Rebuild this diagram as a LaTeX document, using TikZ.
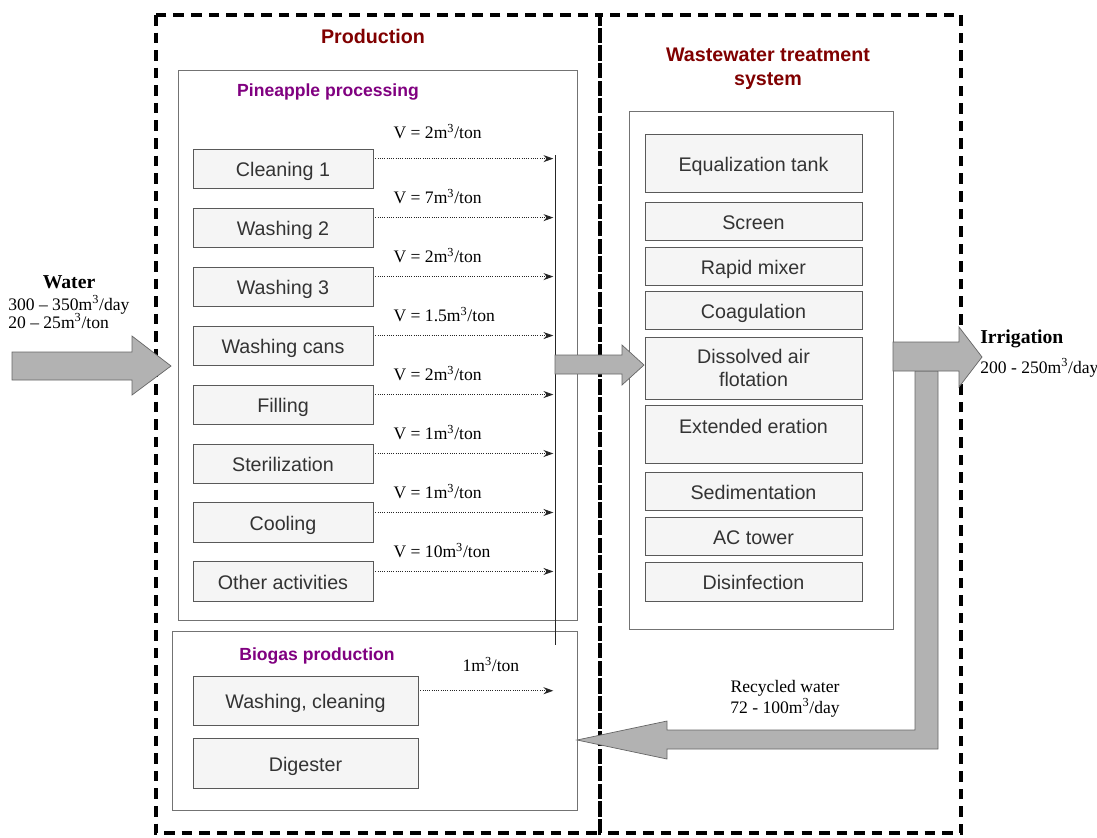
\documentclass[tikz,border=0pt]{standalone}
\usepackage{fontspec}
\setmainfont{Liberation Serif}
\setsansfont{Liberation Sans}
\usetikzlibrary{arrows.meta, positioning, calc}

\definecolor{prodred}{RGB}{128,0,0}
\definecolor{procpurple}{RGB}{128,0,128}

\begin{document}
\begin{tikzpicture}[x=0.025cm, y=-0.025cm, >={Stealth[length=7pt, width=5pt]},
        pbox/.style={rectangle, draw=black!65, fill=black!4, text=black!80, minimum width=4.5cm, minimum height=0.98cm, inner sep=1pt, align=center, text height=12pt, text depth=0pt, font=\sffamily\fontsize{14}{16.5}\selectfont},
        wbox/.style={pbox, minimum width=5.425cm},
        panel/.style={draw=black!55, line width=0.6pt},
        zone/.style={draw=black, line width=2.2pt, dash pattern=on 7.5pt off 5pt},
        flow/.style={->, densely dotted, black!85, line width=0.6pt},
        fat/.style={draw=black!60, fill=black!30, line width=0.5pt},
        title/.style={font=\sffamily\bfseries\fontsize{14}{17}\selectfont, text=prodred, align=center},
        subtitle/.style={font=\sffamily\bfseries\fontsize{12.5}{15}\selectfont, text=procpurple},
        qty/.style={font=\fontsize{12.5}{14.5}\selectfont, inner sep=0pt},
        big/.style={font=\bfseries\fontsize{14}{16}\selectfont, inner sep=0pt}]

        \useasboundingbox (0,0) rectangle (1097,837);

        % the two zones
        \draw[zone] (156,15) rectangle (600,833);
        \draw[zone] (600,15) rectangle (961,833);
        \node[title] (prod) at (373,36) {Production};
        \node[title] (wwts) at (768,69) {Wastewater treatment\\system};

        \draw[panel] (178,70) rectangle (577,620);
        \draw[panel] (172,631) rectangle (577,810);
        \draw[panel] (629,111) rectangle (893,629);
        \node[subtitle] (pp) at (328,92) {Pineapple processing};
        \node[subtitle] (bg) at (317,656) {Biogas production};

        % pineapple processing steps
        \node[pbox] (c1) at (283,168.5) {Cleaning 1};
        \node[pbox, below=0.48cm of c1] (c2) {Washing 2};
        \node[pbox, below=0.48cm of c2] (c3) {Washing 3};
        \node[pbox, below=0.48cm of c3] (c4) {Washing cans};
        \node[pbox, below=0.48cm of c4] (c5) {Filling};
        \node[pbox, below=0.48cm of c5] (c6) {Sterilization};
        \node[pbox, below=0.48cm of c6] (c7) {Cooling};
        \node[pbox, below=0.48cm of c7] (c8) {Other activities};

        \foreach \n/\vol/\dy in {c1/2/-10, c2/7/-4, c3/2/-4, c4/1.5/-4, c5/2/-4, c6/1/-4, c7/1/-4, c8/10/-4} {
            \draw[flow] ($(\n.north east)+(2,10)$) -- ++(178,0);
            \node[qty, anchor=base west] at ($(\n.north east)+(20,\dy)$) {V = \vol m\textsuperscript{3}/ton};
        }
        \draw[black!85, line width=0.6pt] (555,155) -- (555,645);

        % biogas
        \node[pbox, minimum width=5.625cm, minimum height=1.225cm] (wc) at (305.5,700.5) {Washing, cleaning};
        \node[pbox, minimum width=5.625cm, minimum height=1.25cm] (dig) at (305.5,763) {Digester};
        \draw[flow] ($(wc.north east)+(2,15)$) -- ++(133,0);
        \node[qty, anchor=base west] (bgq) at ($(wc.north east)+(44,-4)$) {1m\textsuperscript{3}/ton};

        % treatment units
        \node[wbox, minimum height=1.45cm] (eq) at (753.5,163) {Equalization tank};
        \node[wbox, minimum height=0.95cm] (scr) at (753.5,221) {Screen};
        \node[wbox, minimum height=0.95cm] (rmx) at (753.5,266) {Rapid mixer};
        \node[wbox, minimum height=0.95cm] (coa) at (753.5,310) {Coagulation};
        \node[wbox, minimum height=1.55cm, text height=, text depth=] (daf) at (753.5,368) {Dissolved air\\flotation};
        \node[wbox, minimum height=1.45cm, text height=10pt, text depth=0.4cm] (ext) at (753.5,434) {Extended eration};
        \node[wbox, minimum height=0.95cm] (sed) at (753.5,491) {Sedimentation};
        \node[wbox, minimum height=0.95cm] (act) at (753.5,536) {AC tower};
        \node[wbox, minimum height=0.975cm] (dis) at (753.5,581.5) {Disinfection};

        % water flows
        \draw[fat] (12,352) -- (132,352) -- (132,336) -- (171,366) -- (132,395) -- (132,380) -- (12,380) -- cycle;
        \draw[fat] (555,355) -- (622,355) -- (622,345) -- (644,365) -- (622,385) -- (622,374) -- (555,374) -- cycle;
        \draw[fat] (915,371) -- (915,730) -- (667,730) -- (667,721) -- (577,740) -- (667,759) -- (667,749) -- (938,749) -- (938,371) -- cycle;
        \draw[fat] (893,342) -- (959,342) -- (959,327) -- (982,357) -- (959,387) -- (959,371) -- (893,371) -- cycle;

        \node[big, anchor=base] (water) at (69,288) {Water};
        \node[qty, anchor=base west] (wq1) at (8,310) {300 – 350m\textsuperscript{3}/day};
        \node[qty, anchor=base west] (wq2) at (8,328) {20 – 25m\textsuperscript{3}/ton};

        \node[big, anchor=base west] (irr) at (980,343) {Irrigation};
        \node[qty, anchor=base west] (irrq) at (980,373) {200 - 250m\textsuperscript{3}/day};

        \node[qty, anchor=base] (rec1) at (785,692) {Recycled water};
        \node[qty, anchor=base] (rec2) at (785,713) {72 - 100m\textsuperscript{3}/day};
    \end{tikzpicture}
\end{document}
